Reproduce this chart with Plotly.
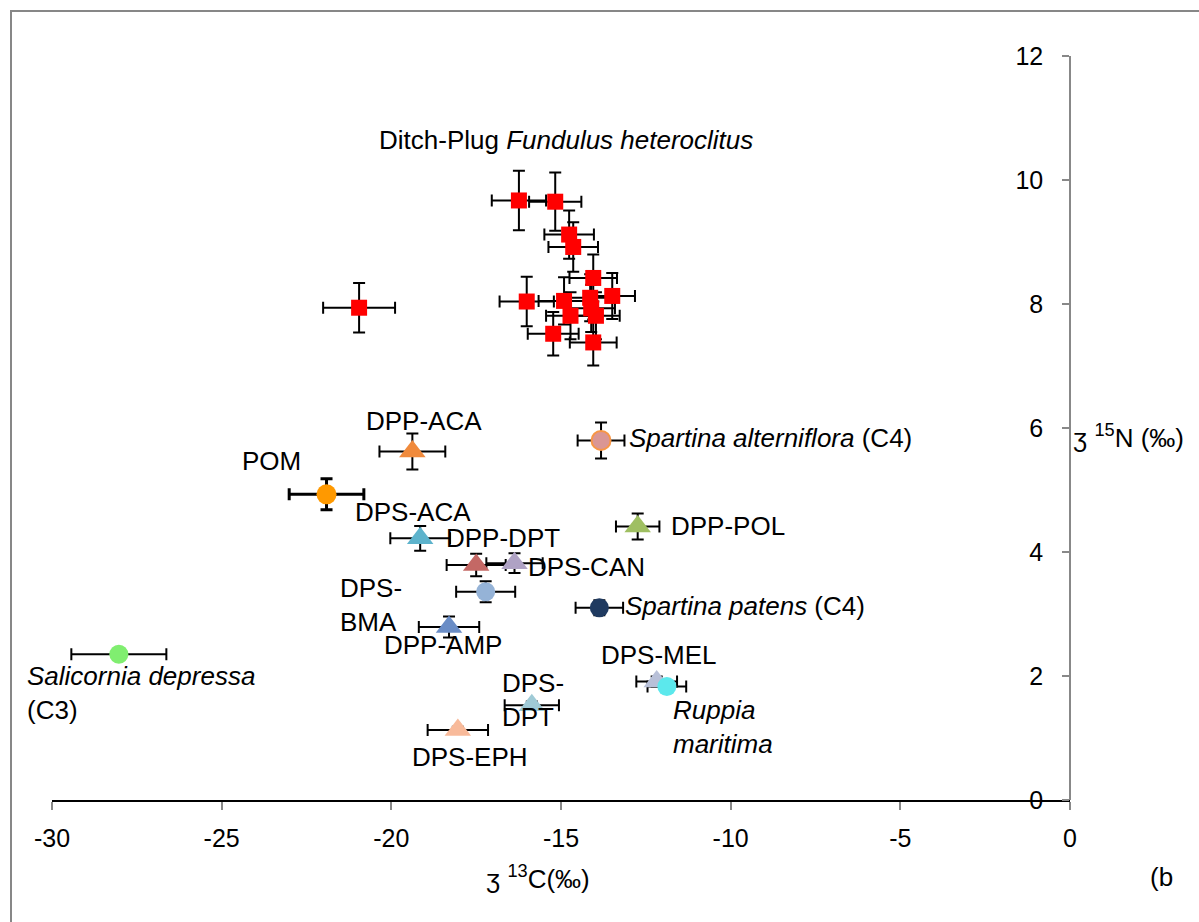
import plotly.graph_objects as go

# ---------------- data ----------------
# Ditch-Plug Fundulus heteroclitus (red squares)
fund_x = [-20.95, -16.24, -15.17, -14.76, -14.64, -14.05, -13.49, -16.01,
          -14.91, -14.14, -14.11, -13.97, -14.72, -15.23, -14.05]
fund_y = [7.94, 9.67, 9.65, 9.12, 8.92, 8.42, 8.13, 8.04,
          8.05, 8.10, 7.93, 7.81, 7.81, 7.52, 7.38]
fund_xerr = [1.06, 0.80, 0.77, 0.73, 0.73, 0.70, 0.67, 0.80,
             0.75, 0.70, 0.70, 0.70, 0.72, 0.75, 0.69]
fund_yerr = [0.40, 0.48, 0.47, 0.39, 0.40, 0.38, 0.37, 0.40,
             0.38, 0.38, 0.38, 0.38, 0.38, 0.35, 0.37]

# sources (circles) and consumers (triangles)
names = ["DPP-ACA", "DPS-ACA", "DPP-DPT", "DPS-CAN", "DPS-BMA",
         "Spartina alterniflora", "DPP-POL", "Spartina patens", "DPP-AMP",
         "DPS-MEL", "Ruppia maritima", "DPS-DPT", "DPS-EPH",
         "Salicornia depressa"]
labels = ["DPP-ACA", "DPS-ACA", "DPP-DPT", "DPS-CAN", "DPS-<br>BMA",
          "<i>Spartina alterniflora</i> (C4)", "DPP-POL",
          "<i>Spartina patens</i> (C4)", "DPP-AMP", "DPS-MEL",
          "<i>Ruppia</i><br><i>maritima</i>", "DPS-<br>DPT", "DPS-EPH",
          "<i>Salicornia depressa</i><br>(C3)"]
d13c = [-19.38, -19.15, -17.50, -16.37, -17.22, -13.82, -12.74, -13.87,
        -18.30, -12.18, -11.88, -15.86, -18.04, -28.03]
d15n = [5.62, 4.22, 3.79, 3.82, 3.36, 5.80, 4.41, 3.10,
        2.79, 1.91, 1.83, 1.53, 1.13, 2.35]
d13c_err = [0.97, 0.88, 0.87, 0.83, 0.87, 0.69, 0.64, 0.70,
            0.89, 0.60, 0.57, 0.80, 0.89, 1.40]
d15n_err = [0.29, 0.20, 0.18, 0.16, 0.17, 0.29, 0.21, 0.12,
            0.17, 0.08, 0.06, 0.06, 0.05, 0.05]

pom_x = [-21.91]
pom_y = [4.93]
pom_xerr = [1.10]
pom_yerr = [0.25]

x_ticks = [-30, -25, -20, -15, -10, -5, 0]
x_ticktext = ["-30", "-25", "-20", "-15", "-10", "-5", "0"]
y_ticks = [0, 2, 4, 6, 8, 10, 12]

# ---------------- styles ----------------
symbols = ["triangle-up", "triangle-up", "triangle-up", "triangle-up", "circle",
           "circle", "triangle-up", "circle", "triangle-up",
           "triangle-up", "circle", "triangle-up", "triangle-up", "circle"]
colors = ["#F08A3C", "#5DB3CC", "#C46865", "#AFA2C4", "#95B3D7",
          "#DA9694", "#9FBF62", "#1F3A60", "#6A8DC6",
          "#B8C0D8", "#5CE8EC", "#9FCAD6", "#F8BA9A", "#80EE70"]
line_colors = ["rgba(0,0,0,0)"] * 5 + ["#F79646"] + ["rgba(0,0,0,0)"] * 8
line_widths = [0] * 5 + [2] + [0] * 8
sizes = [23 if s == "triangle-up" else 19 for s in symbols]

# label offsets (pixels) relative to each point: (xshift, yshift, xanchor)
label_pos = {
    "DPP-ACA": (12, 31, "center"),
    "DPS-ACA": (-7, 26, "center"),
    "DPP-DPT": (27, 27, "center"),
    "DPS-CAN": (72, -4, "center"),
    "DPS-BMA": (-148, -13, "left"),
    "Spartina alterniflora": (26, 2, "left"),
    "DPP-POL": (31, 1, "left"),
    "Spartina patens": (24, 2, "left"),
    "DPP-AMP": (-6, -18, "center"),
    "DPS-MEL": (2, 27, "center"),
    "Ruppia maritima": (4, -40, "left"),
    "DPS-DPT": (-32, 5, "left"),
    "DPS-EPH": (12, -27, "center"),
    "Salicornia depressa": (-94, -39, "left"),
}

FONT = "Liberation Sans, Arial, sans-serif"
FS = 26

fig = go.Figure()

# Fundulus squares
fig.add_trace(go.Scatter(
    x=fund_x, y=fund_y, mode="markers",
    marker=dict(symbol="square", size=16, color="#FF0000", opacity=1),
    error_x=dict(type="data", array=fund_xerr, color="black", thickness=2, width=6),
    error_y=dict(type="data", array=fund_yerr, color="black", thickness=2, width=6),
    showlegend=False, hoverinfo="x+y",
))

# POM (bold error bars)
fig.add_trace(go.Scatter(
    x=pom_x, y=pom_y, mode="markers",
    marker=dict(symbol="circle", size=20, color="#FF9900", opacity=1),
    error_x=dict(type="data", array=pom_xerr, color="black", thickness=3, width=6),
    error_y=dict(type="data", array=pom_yerr, color="black", thickness=3, width=6),
    showlegend=False, hoverinfo="x+y",
))

# other sources & consumers
fig.add_trace(go.Scatter(
    x=d13c, y=d15n, mode="markers", text=names,
    marker=dict(symbol=symbols, size=sizes, color=colors, opacity=1,
                line=dict(color=line_colors, width=line_widths)),
    error_x=dict(type="data", array=d13c_err, color="black", thickness=2, width=6),
    error_y=dict(type="data", array=d15n_err, color="black", thickness=2, width=6),
    showlegend=False, hoverinfo="text+x+y",
))

annotations = []
for nm, lab, xx, yy in zip(names, labels, d13c, d15n):
    xs, ys, xa = label_pos[nm]
    annotations.append(dict(
        x=xx, y=yy, xref="x", yref="y", text=lab, showarrow=False,
        xshift=xs, yshift=ys, xanchor=xa, yanchor="middle", align="left",
        font=dict(family=FONT, size=FS, color="black"),
    ))

annotations.append(dict(
    x=pom_x[0], y=pom_y[0], xref="x", yref="y", text="POM", showarrow=False,
    xshift=-55, yshift=33, font=dict(family=FONT, size=FS, color="black"),
))
annotations.append(dict(
    x=-14.85, y=10.65, xref="x", yref="y",
    text="Ditch-Plug <i>Fundulus heteroclitus</i>", showarrow=False,
    font=dict(family=FONT, size=FS, color="black"),
))
# axis titles
annotations.append(dict(
    x=1, y=0.488, xref="paper", yref="paper", xanchor="left", yanchor="middle",
    xshift=1, text="ʒ <sup>15</sup>N (‰)", showarrow=False,
    font=dict(family=FONT, size=FS, color="black"),
))
annotations.append(dict(
    x=0.4774, y=-0.1035, xref="paper", yref="paper", xanchor="center", yanchor="middle",
    text="ʒ <sup>13</sup>C(‰)", showarrow=False,
    font=dict(family=FONT, size=FS, color="black"),
))
annotations.append(dict(
    x=1.0894, y=-0.1035, xref="paper", yref="paper", xanchor="center", yanchor="middle",
    text="(b", showarrow=False,
    font=dict(family=FONT, size=FS, color="black"),
))

# outer frame (extends beyond the picture on right/bottom)
L, R, T, B = 52, 129, 56, 122
PW, PH = 1199 - L - R, 922 - T - B
frame = dict(type="rect", xref="paper", yref="paper",
             x0=(11 - L) / PW, x1=(1260 - L) / PW,
             y0=(PH - (1000 - T)) / PH, y1=(PH + T - 11) / PH,
             line=dict(color="#878787", width=2), fillcolor="rgba(0,0,0,0)", layer="below")

fig.update_layout(
    width=1199, height=922,
    margin=dict(l=L, r=R, t=T, b=B),
    paper_bgcolor="white", plot_bgcolor="white",
    font=dict(family=FONT, size=25, color="black"),
    annotations=annotations,
    shapes=[frame],
    xaxis=dict(
        range=[-30, 0], tickvals=x_ticks, ticktext=x_ticktext,
        showgrid=False, zeroline=False,
        showline=True, linecolor="black", linewidth=1.5,
        ticks="outside", ticklen=8, tickcolor="#888888", tickwidth=1.5,
        tickfont=dict(family=FONT, size=25, color="black"),
        ticklabelstandoff=7, domain=[0, 1],
    ),
    yaxis=dict(
        range=[0, 12], tickvals=y_ticks, showgrid=False, zeroline=False,
        showline=True, linecolor="#888888", linewidth=1.5,
        ticks="outside", ticklen=7, tickcolor="#888888", tickwidth=1.5,
        tickfont=dict(family=FONT, size=25, color="black"),
        anchor="free", position=1, side="left", ticklabelstandoff=14,
    ),
)

fig.write_html("out.html")
